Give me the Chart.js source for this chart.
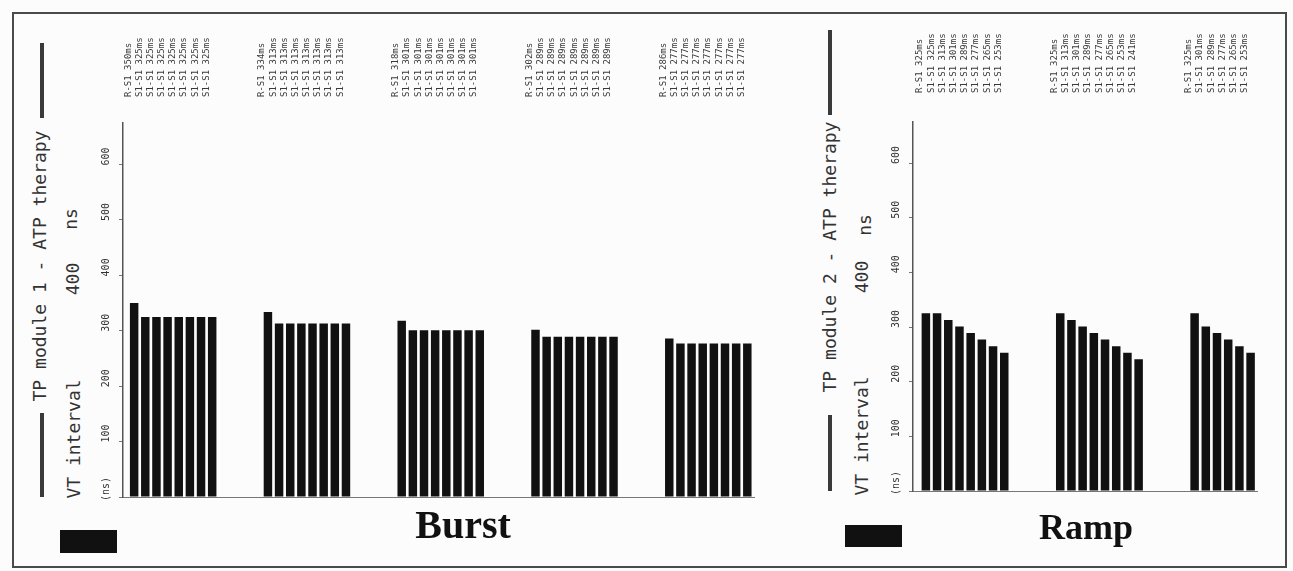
<!DOCTYPE html>
<html>
<head>
<meta charset="utf-8">
<script src="https://cdn.jsdelivr.net/npm/chart.js@4.4.0/dist/chart.umd.min.js"></script>
<style>
  html, body { margin: 0; padding: 0; background: #fff; }
  #page { position: relative; width: 1293px; height: 571px; overflow: hidden; background: #fcfcfc; }
  .frame { position: absolute; left: 12px; top: 12px; width: 1271px; height: 552px; border: 2px solid #4a4a4a; }
  canvas.panel { position: absolute; }
  .rot { position: absolute; transform: translate(-50%, -50%) rotate(-90deg); white-space: nowrap;
         font-family: "DejaVu Sans Mono", monospace; color: #333; font-size: 18px; line-height: 1; }
  .seg { position: absolute; background: #3a3a3a; width: 4px; }
  .key { position: absolute; background: #111; }
  .title { position: absolute; transform: translateX(-50%); line-height: 1; color: #111;
           font-family: "Liberation Serif", "DejaVu Serif", serif; font-weight: bold; }
</style>
</head>
<body>
<div id="page">
  <div class="frame"></div>

  <!-- left panel side labels -->
  <div class="seg" style="left:40px; top:43px; height:75px;"></div>
  <div class="rot" style="left:40px; top:266px;">TP module 1 - ATP therapy</div>
  <div class="seg" style="left:40px; top:413px; height:84px;"></div>
  <div class="rot" style="left:74px; top:439px;">VT interval</div>
  <div class="rot" style="left:73px; top:279px;">400</div>
  <div class="rot" style="left:71px; top:219px;">ns</div>

  <!-- right panel side labels -->
  <div class="seg" style="left:828px; top:30px; height:85px;"></div>
  <div class="rot" style="left:830px; top:257px;">TP module 2 - ATP therapy</div>
  <div class="seg" style="left:828px; top:415px; height:76px;"></div>
  <div class="rot" style="left:862px; top:436px;">VT interval</div>
  <div class="rot" style="left:862px; top:277px;">400</div>
  <div class="rot" style="left:865px; top:225px;">ns</div>

  <canvas id="burst" class="panel" width="720" height="520" style="left:60px; top:0px; width:720px; height:520px;"></canvas>
  <canvas id="ramp" class="panel" width="430" height="520" style="left:850px; top:0px; width:430px; height:520px;"></canvas>

  <div class="key" style="left:60px; top:530px; width:57px; height:23px;"></div>
  <div class="title" style="left:463px; top:505px; font-size:40px;">Burst</div>
  <div class="key" style="left:845px; top:525px; width:57px; height:22px;"></div>
  <div class="title" style="left:1086px; top:509px; font-size:36px;">Ramp</div>
</div>

<script>
// VT interval of each pacing train (ms): first pulse R-S1, then S1-S1
const burstTrain1 = [350, 325, 325, 325, 325, 325, 325, 325];
const burstTrain2 = [334, 313, 313, 313, 313, 313, 313, 313];
const burstTrain3 = [318, 301, 301, 301, 301, 301, 301, 301];
const burstTrain4 = [302, 289, 289, 289, 289, 289, 289, 289];
const burstTrain5 = [286, 277, 277, 277, 277, 277, 277, 277];

const rampTrain1 = [325, 325, 313, 301, 289, 277, 265, 253];
const rampTrain2 = [325, 313, 301, 289, 277, 265, 253, 241];
const rampTrain3 = [325, 301, 289, 277, 265, 253];

const yTickValues = [0, 100, 200, 300, 400, 500, 600];
const yTickLabels = ["(ns)", "100", "200", "300", "400", "500", "600"];

const slotsPerTrain = 12;
const yMax = 675;

function trainsToPoints(trains) {
  const pts = [];
  trains.forEach((train, t) => {
    train.forEach((v, k) => pts.push({ x: t * slotsPerTrain + k, y: v }));
  });
  return pts;
}

function trainsToLabels(trains) {
  const map = {};
  trains.forEach((train, t) => {
    train.forEach((v, k) => {
      map[t * slotsPerTrain + k] = (k === 0 ? "R-S1 " : "S1-S1 ") + v + "ms";
    });
  });
  return map;
}

function drawPanel(id, trains, geom) {
  const points = trainsToPoints(trains);
  const labels = trainsToLabels(trains);
  const positions = points.map((p) => p.x);

  new Chart(document.getElementById(id), {
    type: "bar",
    data: {
      datasets: [
        {
          data: points,
          backgroundColor: "#111",
          barPercentage: 0.76,
          categoryPercentage: 1,
        },
      ],
    },
    options: {
      responsive: false,
      animation: false,
      layout: { padding: { left: 0, right: geom.padRight, top: 0, bottom: 0 } },
      plugins: { legend: { display: false }, tooltip: { enabled: false } },
      scales: {
        x: {
          type: "linear",
          position: "bottom",
          offset: false,
          min: geom.xMin,
          max: geom.xMax,
          grid: { display: false, drawTicks: false, offset: false },
          ticks: { display: false },
          border: { display: true, color: "#777", width: 1 },
          afterFit: (s) => { s.height = geom.bottomH; },
        },
        xTop: {
          type: "linear",
          position: "top",
          offset: false,
          min: geom.xMin,
          max: geom.xMax,
          grid: { display: false, drawTicks: false, offset: false },
          border: { display: false },
          afterBuildTicks: (s) => { s.ticks = positions.map((v) => ({ value: v })); },
          ticks: {
            autoSkip: false,
            minRotation: 90,
            maxRotation: 90,
            padding: geom.labelGap,
            labelOffset: 5,
            font: { family: "DejaVu Sans Mono", size: 9 },
            color: "#3a3a3a",
            callback: (v) => labels[v] || "",
          },
          afterFit: (s) => { s.height = geom.topH; },
        },
        y: {
          position: "left",
          min: 0,
          max: yMax,
          afterBuildTicks: (s) => { s.ticks = yTickValues.map((v) => ({ value: v })); },
          ticks: {
            minRotation: 90,
            maxRotation: 90,
            crossAlign: "center",
            padding: 1,
            labelOffset: -8,
            font: { family: "DejaVu Sans Mono", size: 10 },
            color: "#333",
            callback: (v) => yTickLabels[yTickValues.indexOf(v)],
          },
          grid: { display: true, drawOnChartArea: false, drawTicks: true, tickLength: 4, color: "#777" },
          border: { display: true, color: "#555", width: 1.5 },
          afterFit: (s) => { s.width = geom.axisW; },
        },
      },
    },
  });
}

drawPanel("burst", [burstTrain1, burstTrain2, burstTrain3, burstTrain4, burstTrain5], {
  axisW: 63, padRight: 26, topH: 123, bottomH: 23, xMin: -1, xMax: 55.6, labelGap: 26,
});

drawPanel("ramp", [rampTrain1, rampTrain2, rampTrain3], {
  axisW: 63, padRight: 21, topH: 122, bottomH: 29, xMin: -1.15, xMax: 29.6, labelGap: 29,
});
</script>
</body>
</html>
